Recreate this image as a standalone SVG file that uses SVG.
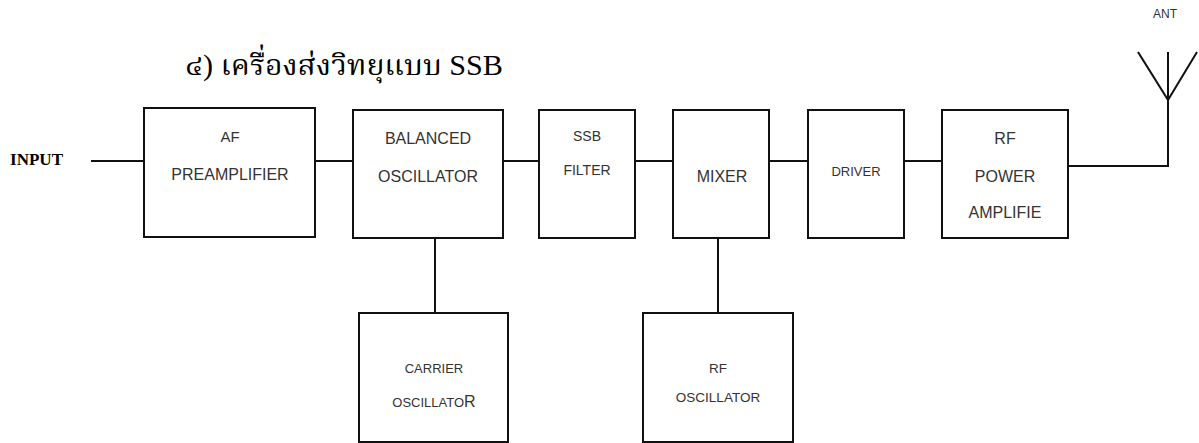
<svg xmlns="http://www.w3.org/2000/svg" width="1199" height="443" viewBox="0 0 1199 443">
<style>
.box{fill:#fff;stroke:#111;stroke-width:2}
.ln{stroke:#111;stroke-width:2;fill:none}
.t{font-family:"Liberation Sans",Arial,sans-serif;fill:#333;text-anchor:middle}
</style>
<rect width="1199" height="443" fill="#fff"/>
<text x="185" y="75" font-family="'Liberation Serif','Noto Serif Thai','Noto Sans Thai',serif" font-size="29" fill="#000" textLength="318" lengthAdjust="spacingAndGlyphs">๔) เครื่องส่งวิทยุแบบ SSB</text>
<text x="10" y="165" font-family="'Liberation Serif',serif" font-weight="bold" font-size="16" fill="#000" textLength="53" lengthAdjust="spacingAndGlyphs">INPUT</text>
<text x="1165" y="18" class="t" font-size="12">ANT</text>
<g id="connectors">
<line class="ln" x1="91" y1="161" x2="144" y2="161"/>
<line class="ln" x1="315" y1="161" x2="353" y2="161"/>
<line class="ln" x1="503" y1="161" x2="539" y2="161"/>
<line class="ln" x1="635" y1="161" x2="673" y2="161"/>
<line class="ln" x1="769" y1="161" x2="808" y2="161"/>
<line class="ln" x1="904" y1="161" x2="942" y2="161"/>
<polyline class="ln" points="1068,166 1168,166 1168,52"/>
<line class="ln" x1="1138" y1="52" x2="1168" y2="100"/>
<line class="ln" x1="1197" y1="52" x2="1168" y2="100"/>
<line class="ln" x1="435" y1="238" x2="435" y2="313"/>
<line class="ln" x1="718" y1="238" x2="718" y2="313"/>
</g>
<g id="af"><rect class="box" x="144" y="108" width="171" height="129"/>
<text class="t" x="230" y="142" font-size="15">AF</text><text class="t" x="230" y="180" font-size="16">PREAMPLIFIER</text></g>
<g id="balanced"><rect class="box" x="353" y="110" width="150" height="128"/>
<text class="t" x="428" y="144" font-size="16">BALANCED</text><text class="t" x="428" y="182" font-size="16">OSCILLATOR</text></g>
<g id="ssb"><rect class="box" x="539" y="110" width="96" height="128"/>
<text class="t" x="587" y="141" font-size="14">SSB</text><text class="t" x="587" y="175" font-size="14">FILTER</text></g>
<g id="mixer"><rect class="box" x="673" y="110" width="96" height="128"/>
<text class="t" x="722" y="182" font-size="16">MIXER</text></g>
<g id="driver"><rect class="box" x="808" y="110" width="96" height="128"/>
<text class="t" x="856" y="176" font-size="13">DRIVER</text></g>
<g id="rfpower"><rect class="box" x="942" y="110" width="126" height="128"/>
<text class="t" x="1005" y="144" font-size="16">RF</text><text class="t" x="1005" y="182" font-size="16">POWER</text><text class="t" x="1005" y="218" font-size="16">AMPLIFIE</text></g>
<g id="carrier"><rect class="box" x="359" y="313" width="149" height="129"/>
<text class="t" x="434" y="373" font-size="13">CARRIER</text><text class="t" x="434" y="407" font-size="13">OSCILLATO<tspan font-size="16">R</tspan></text></g>
<g id="rfosc"><rect class="box" x="643" y="313" width="150" height="129"/>
<text class="t" x="718" y="373" font-size="13.5">RF</text><text class="t" x="718" y="402" font-size="13.5">OSCILLATOR</text></g>
</svg>
